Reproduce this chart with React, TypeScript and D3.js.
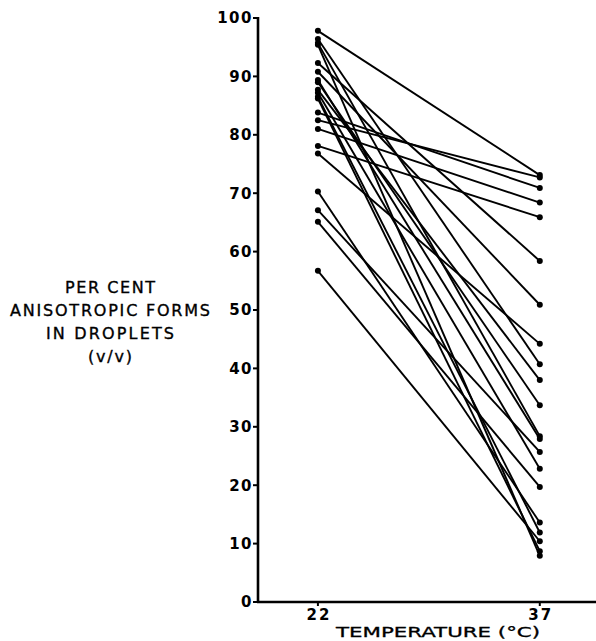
import React from "react";
import * as d3 from "d3";

// temperature categories (deg C)
const temps = [22, 37];
// per cent anisotropic forms, each index is one droplet sample
const at22 = [97.8, 96.4, 95.7, 95.4, 92.3, 90.8, 89.4, 89.0, 87.7, 87.2, 86.5, 86.2, 83.8, 82.5, 81.0, 78.1, 76.8, 70.3, 67.1, 65.1, 56.7];
const at37 = [73.1, 40.7, 28.4, 7.9, 58.4, 50.9, 27.9, 33.7, 38.0, 22.8, 11.9, 8.7, 70.9, 72.7, 68.4, 65.9, 44.2, 13.6, 25.7, 19.7, 10.4];
const yTicks = [0, 10, 20, 30, 40, 50, 60, 70, 80, 90, 100];
const yTitle = ["PER CENT", "ANISOTROPIC FORMS", "IN DROPLETS", "(v/v)"];
const yTitleLen = [90, 200, 128, 44];
const xTitle = "TEMPERATURE (\u00B0C)";

const W = 596;
const H = 641;
const left = 258;
const top = 18;
const bottom = 602;

const font = "'DejaVu Sans', sans-serif";

const App = () => {
  const x = d3.scaleLinear().domain([17.95, 40.8]).range([left, W]);
  const y = d3.scaleLinear().domain([0, 100]).range([bottom, top]);

  const pairs = at22.map((v, i) => [
    [temps[0], v],
    [temps[1], at37[i]],
  ]);

  const line = d3
    .line<number[]>()
    .x((d) => x(d[0]))
    .y((d) => y(d[1]));

  return (
    <svg
      width={W}
      height={H}
      style={{ position: "absolute", left: 0, top: 0, background: "#fff" }}
    >
      {/* axes */}
      <line x1={left} x2={left} y1={top - 1} y2={bottom + 1} stroke="#000" strokeWidth={2.6} />
      <line x1={left - 1} x2={W} y1={bottom} y2={bottom} stroke="#000" strokeWidth={2.6} />

      {yTicks.map((t) => (
        <g key={t}>
          <line x1={left - 5} x2={left} y1={y(t)} y2={y(t)} stroke="#000" strokeWidth={2} />
          <text
            x={left - 5}
            y={y(t)}
            dy="0.36em"
            textAnchor="end"
            fontFamily={font}
            fontSize={15}
            fontWeight="bold"
            letterSpacing={1.5}
          >
            {t}
          </text>
        </g>
      ))}

      {temps.map((t) => (
        <g key={t}>
          <line x1={x(t)} x2={x(t)} y1={bottom} y2={bottom + 4} stroke="#000" strokeWidth={2} />
          <text
            x={x(t) + 1}
            y={bottom + 18}
            textAnchor="middle"
            fontFamily={font}
            fontSize={15}
            fontWeight="bold"
            letterSpacing={2}
          >
            {t}
          </text>
        </g>
      ))}

      <text
        x={336}
        y={637}
        fontFamily={font}
        fontSize={14}
        stroke="#000"
        strokeWidth={0.3}
        textLength={204}
        lengthAdjust="spacingAndGlyphs"
      >
        {xTitle}
      </text>

      {yTitle.map((s, i) => (
        <text
          key={s}
          x={110 - yTitleLen[i] / 2}
          y={293 + i * 23}
          fontFamily={font}
          fontSize={16}
          stroke="#000"
          strokeWidth={0.35}
          textLength={yTitleLen[i]}
          lengthAdjust="spacing"
        >
          {s}
        </text>
      ))}

      {/* sample lines */}
      {pairs.map((p, i) => (
        <path key={i} d={line(p) || ""} fill="none" stroke="#000" strokeWidth={1.9} />
      ))}
      {pairs.map((p, i) =>
        p.map((d, j) => (
          <circle key={i + "-" + j} cx={x(d[0])} cy={y(d[1])} r={3} fill="#000" />
        ))
      )}
    </svg>
  );
};

export default App;
